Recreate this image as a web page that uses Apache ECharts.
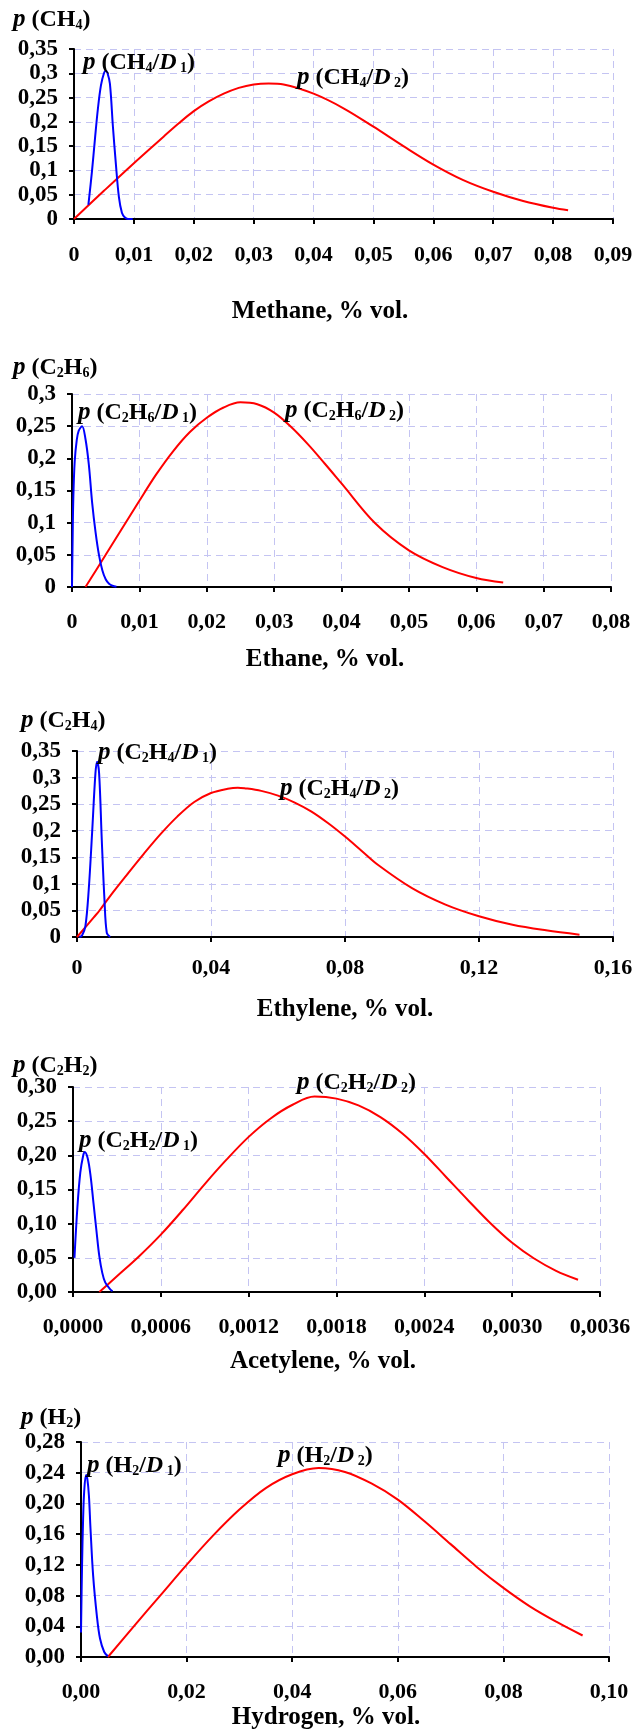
<!DOCTYPE html>
<html><head><meta charset="utf-8">
<script src="https://cdn.jsdelivr.net/npm/echarts@6/dist/echarts.min.js"></script>
<style>html,body{margin:0;padding:0;background:#fff}#c{width:640px;height:1733px}</style>
</head><body><div id="c"></div>
<script>
// ---------- data (x = % vol., y = probability density) ----------
const methaneD1 = [[0.0024,0.029],[0.003,0.098],[0.0035,0.165],[0.004,0.228],[0.0045,0.275],[0.005,0.3],[0.0053,0.305],[0.0056,0.3],[0.006,0.278],[0.0065,0.19],[0.007,0.112],[0.0075,0.045],[0.008,0.013],[0.0085,0.003],[0.009,0.0],[0.0098,0.0]];
const methaneD2 = [[0,0],[0.005,0.058],[0.01,0.115],[0.015,0.17],[0.0175,0.197],[0.02,0.222],[0.0225,0.242],[0.025,0.258],[0.0275,0.27],[0.03,0.277],[0.0325,0.279],[0.035,0.277],[0.04,0.258],[0.045,0.228],[0.05,0.19],[0.055,0.15],[0.06,0.112],[0.065,0.08],[0.07,0.056],[0.075,0.037],[0.08,0.023],[0.0825,0.018]];

const ethaneD1 = [[0,0],[0.0001,0.08],[0.0002,0.14],[0.0004,0.195],[0.0007,0.228],[0.001,0.243],[0.0015,0.25],[0.002,0.23],[0.0025,0.19],[0.003,0.13],[0.0035,0.085],[0.004,0.05],[0.0045,0.026],[0.005,0.012],[0.0055,0.005],[0.006,0.002],[0.0066,0.0005]];
const ethaneD2 = [[0.002,0],[0.005,0.05],[0.01,0.134],[0.0125,0.175],[0.015,0.211],[0.0175,0.241],[0.02,0.263],[0.0225,0.279],[0.025,0.287],[0.0275,0.284],[0.03,0.271],[0.0325,0.249],[0.035,0.222],[0.0375,0.192],[0.04,0.161],[0.045,0.099],[0.05,0.057],[0.055,0.031],[0.06,0.014],[0.064,0.007]];

const ethyleneD1 = [[0.0007,0],[0.0015,0.003],[0.0025,0.02],[0.0035,0.089],[0.0045,0.195],[0.0055,0.308],[0.006,0.33],[0.0066,0.308],[0.0074,0.182],[0.0082,0.07],[0.0089,0.0075],[0.0099,0]];
const ethyleneD2 = [[0,0],[0.005,0.037],[0.0065,0.048],[0.01,0.078],[0.015,0.118],[0.02,0.157],[0.025,0.194],[0.03,0.227],[0.035,0.254],[0.04,0.271],[0.045,0.279],[0.048,0.281],[0.05,0.28],[0.055,0.275],[0.06,0.266],[0.065,0.253],[0.07,0.236],[0.075,0.214],[0.08,0.189],[0.085,0.162],[0.09,0.135],[0.1,0.092],[0.11,0.061],[0.12,0.039],[0.13,0.023],[0.14,0.0125],[0.15,0.0044]];

const acetyleneD1 = [[0.00001,0.05],[0.00003,0.124],[0.00005,0.175],[0.00007,0.2],[0.00008,0.205],[0.0001,0.196],[0.00012,0.17],[0.00014,0.13],[0.00016,0.09],[0.00018,0.052],[0.0002,0.028],[0.00022,0.014],[0.00025,0.005],[0.00027,0.001]];
const acetyleneD2 = [[0.00018,0],[0.0003,0.023],[0.00045,0.052],[0.0006,0.084],[0.00075,0.12],[0.0009,0.158],[0.00105,0.194],[0.0012,0.227],[0.00135,0.254],[0.0015,0.274],[0.00165,0.286],[0.0018,0.283],[0.00195,0.273],[0.0021,0.256],[0.00225,0.232],[0.0024,0.202],[0.00255,0.168],[0.0027,0.134],[0.00285,0.101],[0.003,0.072],[0.00315,0.049],[0.0033,0.031],[0.00345,0.018]];

const hydrogenD1 = [[0,0.032],[0.0002,0.12],[0.0004,0.18],[0.0006,0.215],[0.00095,0.237],[0.0012,0.232],[0.0015,0.21],[0.0018,0.167],[0.0023,0.106],[0.003,0.054],[0.0036,0.024],[0.0044,0.0065],[0.0051,0.001]];
const hydrogenD2 = [[0.0051,0],[0.01,0.04],[0.015,0.08],[0.02,0.12],[0.025,0.158],[0.03,0.192],[0.035,0.22],[0.04,0.238],[0.045,0.246],[0.05,0.241],[0.055,0.226],[0.06,0.205],[0.065,0.177],[0.07,0.147],[0.075,0.117],[0.08,0.09],[0.085,0.066],[0.09,0.046],[0.095,0.028]];

// ---------- tick labels ----------
const methaneXTicks = ['0','0,01','0,02','0,03','0,04','0,05','0,06','0,07','0,08','0,09'];
const methaneYTicks = ['0','0,05','0,1','0,15','0,2','0,25','0,3','0,35'];
const ethaneXTicks = ['0','0,01','0,02','0,03','0,04','0,05','0,06','0,07','0,08'];
const ethaneYTicks = ['0','0,05','0,1','0,15','0,2','0,25','0,3'];
const ethyleneXTicks = ['0','0,04','0,08','0,12','0,16'];
const ethyleneYTicks = ['0','0,05','0,1','0,15','0,2','0,25','0,3','0,35'];
const acetyleneXTicks = ['0,0000','0,0006','0,0012','0,0018','0,0024','0,0030','0,0036'];
const acetyleneYTicks = ['0,00','0,05','0,10','0,15','0,20','0,25','0,30'];
const hydrogenXTicks = ['0,00','0,02','0,04','0,06','0,08','0,10'];
const hydrogenYTicks = ['0,00','0,04','0,08','0,12','0,16','0,20','0,24','0,28'];

// ---------- texts ----------
const xTitles = ['Methane, % vol.','Ethane, % vol.','Ethylene, % vol.','Acetylene, % vol.','Hydrogen, % vol.'];
const gasRich = [['CH','4'],['C','2','H','6'],['C','2','H','4'],['C','2','H','2'],['H','2']];

// ---------- layout ----------
const FONT = '"Liberation Serif","Times New Roman",serif';
const panels = [
  {grid:{left:74,top:49,width:539,height:170}, xMax:0.09, xInt:0.01, yMax:0.35, yInt:0.05, xt:methaneXTicks, yt:methaneYTicks, d1:methaneD1, d2:methaneD2, xm:25,
   yTitle:[13,19], l1:[83,62], l2:[297,77], xTitle:[320,312]},
  {grid:{left:72,top:394,width:539,height:193}, xMax:0.08, xInt:0.01, yMax:0.3, yInt:0.05, xt:ethaneXTicks, yt:ethaneYTicks, d1:ethaneD1, d2:ethaneD2, xm:24,
   yTitle:[13,367], l1:[78,412], l2:[285,410], xTitle:[325,660]},
  {grid:{left:77,top:751,width:536,height:186}, xMax:0.16, xInt:0.04, yMax:0.35, yInt:0.05, xt:ethyleneXTicks, yt:ethyleneYTicks, d1:ethyleneD1, d2:ethyleneD2, xm:20,
   yTitle:[21,720], l1:[98,752], l2:[280,788], xTitle:[345,1010]},
  {grid:{left:73,top:1087,width:527,height:205}, xMax:0.0036, xInt:0.0006, yMax:0.3, yInt:0.05, xt:acetyleneXTicks, yt:acetyleneYTicks, d1:acetyleneD1, d2:acetyleneD2, xm:24,
   yTitle:[13,1065], l1:[79,1140], l2:[297,1082], xTitle:[323,1362]},
  {grid:{left:81,top:1442,width:528,height:215}, xMax:0.10, xInt:0.02, yMax:0.28, yInt:0.04, xt:hydrogenXTicks, yt:hydrogenYTicks, d1:hydrogenD1, d2:hydrogenD2, xm:24,
   yTitle:[21,1417], l1:[87,1465], l2:[278,1455], xTitle:[326,1718]}
];

const rich = {
  p:{fontFamily:FONT,fontWeight:'bold',fontStyle:'italic',fontSize:25,color:'#000',lineHeight:26,verticalAlign:'bottom'},
  n:{fontFamily:FONT,fontWeight:'bold',fontSize:24,color:'#000',lineHeight:26,verticalAlign:'bottom'},
  d:{fontFamily:FONT,fontWeight:'bold',fontStyle:'italic',fontSize:24,color:'#000',lineHeight:26,verticalAlign:'bottom'},
  s:{fontFamily:FONT,fontWeight:'bold',fontSize:14,color:'#000',lineHeight:12,verticalAlign:'bottom'}
};
function gasStr(parts){
  let s=''; for(let i=0;i<parts.length;i++){ s += (i%2===0) ? '{n|'+parts[i]+'}' : '{s|'+parts[i]+'}'; } return s;
}
function yTitleStr(k){ return '{p|p}{n| (}'+gasStr(gasRich[k])+'{n|)}'; }
function curveStr(k,dn){ return '{p|p}{n| (}'+gasStr(gasRich[k])+'{n|/}{d|D}{s| '+dn+'}{n|)}'; }

const lavender = '#c4c4f2';
function fmt(labels, interval){ return v => { const i=Math.round(v/interval); return labels[i]!==undefined?labels[i]:''; }; }

const option = {animation:false, backgroundColor:'#fff', grid:[], xAxis:[], yAxis:[], series:[], graphic:[]};
panels.forEach((P,i)=>{
  option.grid.push(Object.assign({containLabel:false, outerBoundsMode:'none', show:false}, P.grid));
  const axisCommon = {
    type:'value', gridIndex:i, min:0,
    axisLine:{show:true,onZero:false,lineStyle:{color:'#000',width:2}},
    axisTick:{show:true,inside:false,length:5,lineStyle:{color:'#000',width:2}},
    splitLine:{show:true,lineStyle:{color:lavender,width:1,type:[7,5]}},
    minorTick:{show:false}
  };
  option.xAxis.push(Object.assign({}, axisCommon, {max:P.xMax, interval:P.xInt,
    axisLabel:{show:true,margin:P.xm,fontFamily:FONT,fontWeight:'bold',fontSize:22,color:'#000',showMinLabel:true,showMaxLabel:true,hideOverlap:false,formatter:fmt(P.xt,P.xInt)}}));
  option.yAxis.push(Object.assign({}, axisCommon, {max:P.yMax, interval:P.yInt,
    axisLabel:{show:true,margin:16,fontFamily:FONT,fontWeight:'bold',fontSize:23,color:'#000',showMinLabel:true,showMaxLabel:true,hideOverlap:false,formatter:fmt(P.yt,P.yInt)}}));
  option.series.push({type:'line',xAxisIndex:i,yAxisIndex:i,data:P.d2,showSymbol:false,smooth:0.35,clip:false,silent:true,lineStyle:{color:'#ff0000',width:2},z:3});
  option.series.push({type:'line',xAxisIndex:i,yAxisIndex:i,data:P.d1,showSymbol:false,smooth:0.35,clip:false,silent:true,lineStyle:{color:'#0000ff',width:2},z:4});
  option.graphic.push({type:'text',x:P.yTitle[0],y:P.yTitle[1],style:{text:yTitleStr(i),rich:rich,verticalAlign:'middle',align:'left'},z:10});
  option.graphic.push({type:'text',x:P.l1[0],y:P.l1[1],style:{text:curveStr(i,'1'),rich:rich,verticalAlign:'middle',align:'left'},z:10});
  option.graphic.push({type:'text',x:P.l2[0],y:P.l2[1],style:{text:curveStr(i,'2'),rich:rich,verticalAlign:'middle',align:'left'},z:10});
  option.graphic.push({type:'text',x:P.xTitle[0],y:P.xTitle[1],style:{text:xTitles[i],fontFamily:FONT,fontWeight:'bold',fontSize:25,fill:'#000',verticalAlign:'middle',align:'center'},z:10});
});

const chart = echarts.init(document.getElementById('c'), null, {renderer:'canvas', width:640, height:1733});
chart.setOption(option);
</script></body></html>
